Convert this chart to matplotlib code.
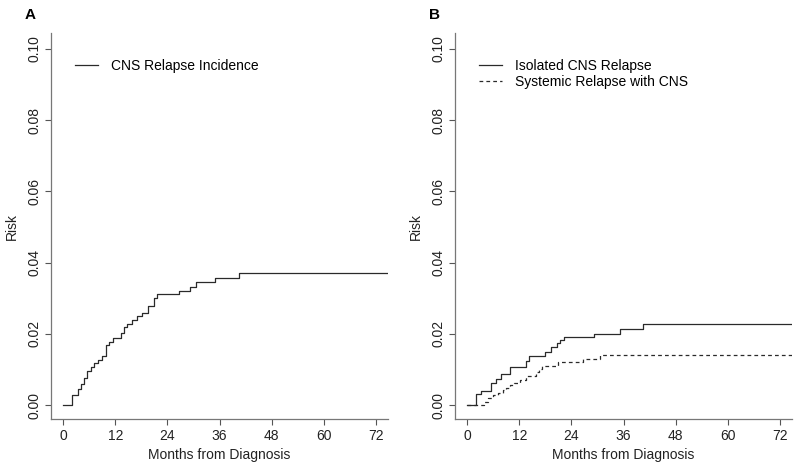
import matplotlib
matplotlib.use("Agg")
import matplotlib.pyplot as plt

plt.rcParams['font.family'] = ['Liberation Sans', 'DejaVu Sans']

# Panel A: CNS relapse incidence (step times in months, cumulative risk)
a_time = [0, 2.0, 3.5, 4.2, 4.9, 5.6, 6.5, 7.2, 8.0, 8.9, 9.8, 10.6, 11.4, 13.4, 13.9,
          14.7, 15.9, 17.0, 18.1, 19.6, 21.0, 21.6, 26.7, 29.3, 30.7, 35.0, 40.5, 74.6]
a_risk = [0, 0.0028, 0.0044, 0.0058, 0.0075, 0.0096, 0.0108, 0.0117, 0.0127, 0.0138,
          0.0169, 0.0178, 0.0188, 0.0202, 0.0219, 0.0229, 0.0239, 0.0249, 0.0260, 0.0279,
          0.0300, 0.0311, 0.0321, 0.0332, 0.0345, 0.0356, 0.0370, 0.0370]

# Panel B: isolated CNS relapse
b1_time = [0, 2.0, 3.2, 5.4, 6.6, 7.8, 9.8, 13.5, 14.3, 18.0, 19.4, 20.6, 21.3, 22.3,
           29.3, 35.1, 40.4, 74.9]
b1_risk = [0, 0.0030, 0.0039, 0.0062, 0.0074, 0.0086, 0.0108, 0.0124, 0.0138, 0.0150,
           0.0162, 0.0175, 0.0182, 0.0190, 0.0201, 0.0213, 0.0228, 0.0228]

# Panel B: systemic relapse with CNS
b2_time = [0, 3.8, 4.8, 5.9, 7.0, 8.2, 9.0, 9.8, 10.9, 12.1, 13.6, 15.8, 16.6, 17.3,
           21.0, 26.7, 30.7, 74.9]
b2_risk = [0, 0.0009, 0.0019, 0.0028, 0.0035, 0.0042, 0.0049, 0.0056, 0.0063, 0.0070,
           0.0081, 0.0092, 0.0101, 0.0110, 0.0120, 0.0130, 0.0142, 0.0142]

x_ticks = [0, 12, 24, 36, 48, 60, 72]
y_ticks = [0.00, 0.02, 0.04, 0.06, 0.08, 0.10]
y_tick_labels = ["0.00", "0.02", "0.04", "0.06", "0.08", "0.10"]

W, H = 800, 471
fig = plt.figure(figsize=(8.0, 4.71), dpi=100)

def make_ax(left_px):
    ax = fig.add_axes([left_px / W, (H - 419) / H, 337 / W, (419 - 33) / H])
    ax.set_xlim(-2.8, 74.8)
    ax.set_ylim(-0.0039, 0.1045)
    for s in ['top', 'right']:
        ax.spines[s].set_visible(False)
    for s in ['left', 'bottom']:
        ax.spines[s].set_color('#777777')
        ax.spines[s].set_linewidth(0.9)
    ax.set_xticks(x_ticks)
    ax.set_xticklabels([str(t) for t in x_ticks])
    ax.set_yticks(y_ticks)
    ax.set_yticklabels(y_tick_labels, rotation=90, va='center')
    ax.tick_params(axis='both', direction='out', length=4, width=0.8, color='#555555',
                   labelsize=10, labelcolor='#222222', pad=3)
    ax.set_xlabel("Months from Diagnosis", fontsize=10, color='#222222', labelpad=4)
    ax.set_ylabel("Risk", fontsize=10, color='#222222', labelpad=6)
    return ax

axA = make_ax(51)
axA.step(a_time, a_risk, where='post', color='#2a2a2a', lw=0.9,
         label="CNS Relapse Incidence")
axA.legend(loc='upper left', bbox_to_anchor=(0.072, 0.933), frameon=False, fontsize=10,
           handlelength=1.65, handletextpad=0.9, borderaxespad=0, borderpad=0)

axB = make_ax(455)
axB.step(b1_time, b1_risk, where='post', color='#2a2a2a', lw=0.9,
         label="Isolated CNS Relapse")
axB.step(b2_time, b2_risk, where='post', color='#2a2a2a', lw=0.9,
         linestyle=(0, (3, 2.5)), label="Systemic Relapse with CNS")
axB.legend(loc='upper left', bbox_to_anchor=(0.072, 0.933), frameon=False, fontsize=10,
           handlelength=1.65, handletextpad=0.9, borderaxespad=0, borderpad=0,
           labelspacing=0.12)

fig.text(25 / W, 1 - 15 / H, "A", fontsize=11, fontweight='bold', va='center')
fig.text(429 / W, 1 - 15 / H, "B", fontsize=11, fontweight='bold', va='center')

fig.savefig("out.png", dpi=100)
